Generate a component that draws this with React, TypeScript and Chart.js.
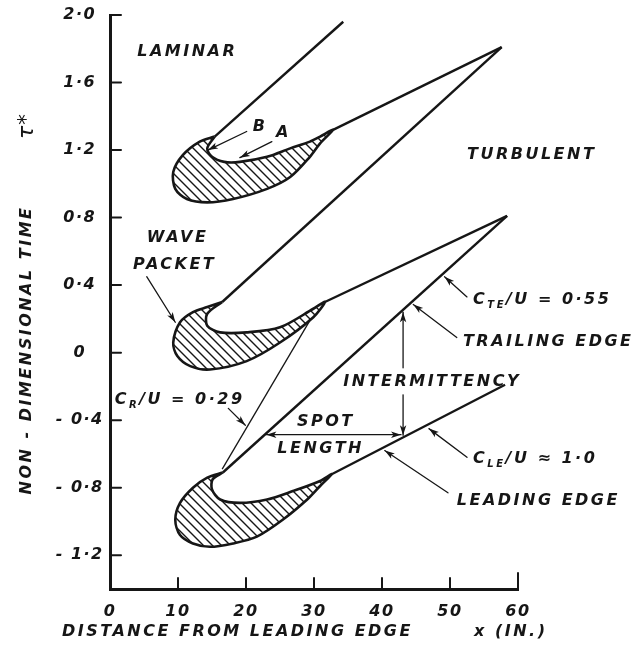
import React, { useEffect, useRef } from 'react';
import { Chart, registerables } from 'chart.js';

Chart.register(...registerables);

// ---- axes ----
const xTicks = [0, 10, 20, 30, 40, 50, 60];
const yTicks = [-1.2, -0.8, -0.4, 0, 0.4, 0.8, 1.2, 1.6, 2.0];

// ---- wave packets (hatched), x in inches, tau* ----
const topPacketX = [15.4, 13.2, 10.7, 9.3, 9.6, 11.3, 14.3, 18.1, 23.1, 26.5, 29.4, 30.9, 32.8, 30.9, 29.4, 26.5, 23.1, 19.1, 16.8, 15.0, 14.3, 15.4];
const topPacketT = [1.28, 1.25, 1.17, 1.07, 0.97, 0.91, 0.89, 0.91, 0.97, 1.04, 1.16, 1.24, 1.32, 1.28, 1.25, 1.21, 1.16, 1.13, 1.13, 1.16, 1.21, 1.28];

const midPacketX = [16.5, 14.3, 12.2, 10.3, 9.3, 9.9, 11.8, 14.7, 20.1, 25.0, 29.9, 31.6, 29.9, 25.0, 20.1, 16.2, 14.3, 14.3, 16.5];
const midPacketT = [0.30, 0.27, 0.24, 0.18, 0.06, -0.02, -0.08, -0.10, -0.05, 0.06, 0.21, 0.30, 0.26, 0.15, 0.12, 0.12, 0.16, 0.23, 0.30];

const botPacketX = [16.6, 14.3, 12.2, 10.3, 9.6, 10.3, 12.2, 14.7, 18.1, 21.6, 25.4, 29.0, 30.9, 32.6, 30.9, 26.9, 23.1, 19.1, 16.2, 15.0, 15.1, 16.6];
const botPacketT = [-0.71, -0.74, -0.80, -0.89, -0.99, -1.08, -1.13, -1.15, -1.13, -1.09, -0.99, -0.87, -0.79, -0.72, -0.76, -0.82, -0.87, -0.89, -0.87, -0.81, -0.75, -0.71];

// ---- spot edges ----
const topTrailX = [15.4, 34.3];
const topTrailT = [1.28, 1.96];
const topLeadX = [32.8, 57.6];
const topLeadT = [1.32, 1.81];
const midTrailX = [16.5, 57.6];
const midTrailT = [0.30, 1.81];
const midLeadX = [31.6, 58.4];
const midLeadT = [0.30, 0.81];
const botTrailX = [16.6, 58.4];
const botTrailT = [-0.71, 0.81];
const botLeadX = [32.6, 58.1];
const botLeadT = [-0.72, -0.19];
const crLineX = [29.9, 16.5];
const crLineT = [0.225, -0.69];

// ---- annotations (data coordinates) ----
type Part = { t: string; sub?: boolean };
const labels: { parts: Part[]; x: number; y: number }[] = [
  { parts: [{ t: 'LAMINAR' }], x: 4.0, y: 1.78 },
  { parts: [{ t: 'TURBULENT' }], x: 52.5, y: 1.17 },
  { parts: [{ t: 'WAVE' }], x: 5.4, y: 0.68 },
  { parts: [{ t: 'PACKET' }], x: 3.4, y: 0.52 },
  { parts: [{ t: 'B' }], x: 21.0, y: 1.34 },
  { parts: [{ t: 'A' }], x: 24.4, y: 1.30 },
  { parts: [{ t: 'C' }, { t: 'TE', sub: true }, { t: '/U = 0·55' }], x: 53.4, y: 0.31 },
  { parts: [{ t: 'TRAILING EDGE' }], x: 51.9, y: 0.065 },
  { parts: [{ t: 'INTERMITTENCY' }], x: 34.3, y: -0.17 },
  { parts: [{ t: 'SPOT' }], x: 27.5, y: -0.41 },
  { parts: [{ t: 'LENGTH' }], x: 24.6, y: -0.57 },
  { parts: [{ t: 'C' }, { t: 'R', sub: true }, { t: '/U = 0·29' }], x: 0.7, y: -0.28 },
  { parts: [{ t: 'C' }, { t: 'LE', sub: true }, { t: '/U ≈ 1·0' }], x: 53.4, y: -0.63 },
  { parts: [{ t: 'LEADING EDGE' }], x: 51.0, y: -0.88 },
];

const arrows: { from: [number, number]; to: [number, number]; both?: boolean }[] = [
  { from: [5.4, 0.45], to: [9.6, 0.18] },
  { from: [20.1, 1.31], to: [14.4, 1.20] },
  { from: [23.8, 1.25], to: [19.1, 1.155] },
  { from: [52.5, 0.33], to: [49.2, 0.45] },
  { from: [51.0, 0.09], to: [44.6, 0.285] },
  { from: [43.1, -0.09], to: [43.1, 0.24] },
  { from: [43.1, -0.25], to: [43.1, -0.49] },
  { from: [42.8, -0.486], to: [23.0, -0.486], both: true },
  { from: [17.4, -0.33], to: [19.9, -0.43] },
  { from: [52.5, -0.62], to: [46.9, -0.45] },
  { from: [49.7, -0.83], to: [40.4, -0.58] },
];

const INK = '#161616';
const FONT = '"DejaVu Sans", sans-serif';
const LABEL_SIZE = 16;

const pts = (xs: number[], ts: number[]) => xs.map((x, i) => ({ x, y: ts[i] }));

const fmtY = (v: number) => {
  if (v === 0) return '0';
  const s = Math.abs(v).toFixed(1).replace('.', '·');
  return v < 0 ? '- ' + s : s;
};

function drawRich(ctx: CanvasRenderingContext2D, parts: Part[], x: number, y: number, size: number) {
  let cx = x;
  for (const p of parts) {
    const fs = p.sub ? Math.round(size * 0.62) : size;
    ctx.font = `italic bold ${fs}px ${FONT}`;
    ctx.fillText(p.t, cx, y + (p.sub ? size * 0.32 : 0));
    cx += ctx.measureText(p.t).width;
  }
}

function arrowHead(ctx: CanvasRenderingContext2D, x1: number, y1: number, x2: number, y2: number) {
  const a = Math.atan2(y2 - y1, x2 - x1);
  const L = 10, W = 3.2;
  ctx.beginPath();
  ctx.moveTo(x2, y2);
  ctx.lineTo(x2 - L * Math.cos(a) + W * Math.sin(a), y2 - L * Math.sin(a) - W * Math.cos(a));
  ctx.lineTo(x2 - L * 0.75 * Math.cos(a), y2 - L * 0.75 * Math.sin(a));
  ctx.lineTo(x2 - L * Math.cos(a) - W * Math.sin(a), y2 - L * Math.sin(a) + W * Math.cos(a));
  ctx.closePath();
  ctx.fill();
}

const decor = {
  id: 'decor',
  beforeDraw(chart: any) {
    (chart.ctx as any).letterSpacing = '1.5px';
  },
  afterDraw(chart: any) {
    const ctx: CanvasRenderingContext2D = chart.ctx;
    const xs = chart.scales.x, ys = chart.scales.y;
    const area = chart.chartArea;
    const px = (v: number) => xs.getPixelForValue(v);
    const py = (v: number) => ys.getPixelForValue(v);
    ctx.save();
    ctx.strokeStyle = INK;
    ctx.fillStyle = INK;
    ctx.lineCap = 'round';
    // inward tick marks
    ctx.lineWidth = 2;
    ctx.beginPath();
    for (const v of yTicks) {
      const y = py(v);
      ctx.moveTo(area.left, y);
      ctx.lineTo(area.left + 11, y);
    }
    for (const v of xTicks) {
      if (v === 0) continue;
      const x = px(v);
      ctx.moveTo(x, area.bottom);
      ctx.lineTo(x, area.bottom - (v === 60 ? 16 : 11));
    }
    ctx.stroke();

    // arrows
    ctx.lineWidth = 1.3;
    for (const a of arrows) {
      const x1 = px(a.from[0]), y1 = py(a.from[1]);
      const x2 = px(a.to[0]), y2 = py(a.to[1]);
      ctx.beginPath();
      ctx.moveTo(x1, y1);
      ctx.lineTo(x2, y2);
      ctx.stroke();
      arrowHead(ctx, x1, y1, x2, y2);
      if (a.both) arrowHead(ctx, x2, y2, x1, y1);
    }

    // labels
    (ctx as any).letterSpacing = '2.5px';
    ctx.textBaseline = 'middle';
    ctx.textAlign = 'left';
    for (const l of labels) {
      drawRich(ctx, l.parts, px(l.x), py(l.y), LABEL_SIZE);
    }

    // axis titles
    ctx.font = `italic bold ${LABEL_SIZE}px ${FONT}`;
    ctx.fillText('DISTANCE FROM LEADING EDGE', 62, 632);
    ctx.fillText('x (IN.)', 474, 632);

    ctx.save();
    ctx.translate(27, 350);
    ctx.rotate(-Math.PI / 2);
    ctx.textAlign = 'center';
    ctx.fillText('NON - DIMENSIONAL TIME', 0, 0);
    ctx.restore();

    ctx.save();
    ctx.translate(27, 126);
    ctx.rotate(-Math.PI / 2);
    ctx.textAlign = 'center';
    (ctx as any).letterSpacing = '1px';
    ctx.font = `italic 22px ${FONT}`;
    ctx.fillText('τ*', 0, 0);
    ctx.restore();

    ctx.restore();
  },
};

export default function App() {
  const ref = useRef<HTMLCanvasElement>(null);
  useEffect(() => {
    const canvas = ref.current!;
    const ctx = canvas.getContext('2d')!;

    const pc = document.createElement('canvas');
    pc.width = 9;
    pc.height = 9;
    const p = pc.getContext('2d')!;
    p.fillStyle = '#ffffff';
    p.fillRect(0, 0, 9, 9);
    p.strokeStyle = INK;
    p.lineWidth = 1.4;
    p.beginPath();
    p.moveTo(-2, -2); p.lineTo(11, 11);
    p.moveTo(-2, 7); p.lineTo(2, 11);
    p.moveTo(7, -2); p.lineTo(11, 2);
    p.stroke();
    const hatch = ctx.createPattern(pc, 'repeat')!;

    const packet = (xs: number[], ts: number[]) => ({
      data: pts(xs, ts),
      showLine: true,
      fill: 'shape',
      backgroundColor: hatch,
      borderColor: INK,
      borderWidth: 2.6,
      pointRadius: 0,
      tension: 0.3,
    });
    const edge = (xs: number[], ts: number[], w = 2.4) => ({
      data: pts(xs, ts),
      showLine: true,
      fill: false,
      borderColor: INK,
      borderWidth: w,
      pointRadius: 0,
      tension: 0,
    });

    const tickFont = { family: FONT, style: 'italic' as const, weight: 'bold' as const, size: 16 };

    const chart = new Chart(ctx, {
      type: 'scatter',
      data: {
        datasets: [
          packet(topPacketX, topPacketT),
          packet(midPacketX, midPacketT),
          packet(botPacketX, botPacketT),
          edge(topTrailX, topTrailT),
          edge(topLeadX, topLeadT),
          edge(midTrailX, midTrailT),
          edge(midLeadX, midLeadT),
          edge(botTrailX, botTrailT),
          edge(botLeadX, botLeadT),
          edge(crLineX, crLineT, 1.3),
        ] as any,
      },
      options: {
        responsive: false,
        animation: false,
        events: [],
        layout: { padding: { top: 15, right: 119, left: 0, bottom: 0 } },
        plugins: { legend: { display: false }, tooltip: { enabled: false } },
        scales: {
          x: {
            type: 'linear',
            min: 0,
            max: 60,
            afterBuildTicks: (axis: any) => { axis.ticks = xTicks.map((value) => ({ value })); },
            afterFit: (axis: any) => { axis.height = 70; axis.paddingLeft = 0; axis.paddingRight = 0; },
            grid: { display: false, drawTicks: false },
            border: { display: true, width: 3, color: INK },
            ticks: { color: INK, font: tickFont, padding: 13, maxRotation: 0, callback: (v: any) => String(v) },
          },
          y: {
            type: 'linear',
            min: -1.4,
            max: 2.0,
            afterBuildTicks: (axis: any) => { axis.ticks = yTicks.map((value) => ({ value })); },
            afterFit: (axis: any) => { axis.width = 110; axis.paddingTop = 0; axis.paddingBottom = 0; },
            grid: { display: false, drawTicks: false },
            border: { display: true, width: 3, color: INK },
            ticks: { color: INK, font: tickFont, padding: 10, crossAlign: 'center', callback: (v: any) => fmtY(Number(v)) },
          },
        },
      } as any,
      plugins: [decor],
    });
    return () => chart.destroy();
  }, []);

  return (
    <div style={{ position: 'absolute', left: 0, top: 0, width: 637, height: 659, background: '#fff' }}>
      <canvas ref={ref} width={637} height={659} style={{ display: 'block' }} />
    </div>
  );
}
